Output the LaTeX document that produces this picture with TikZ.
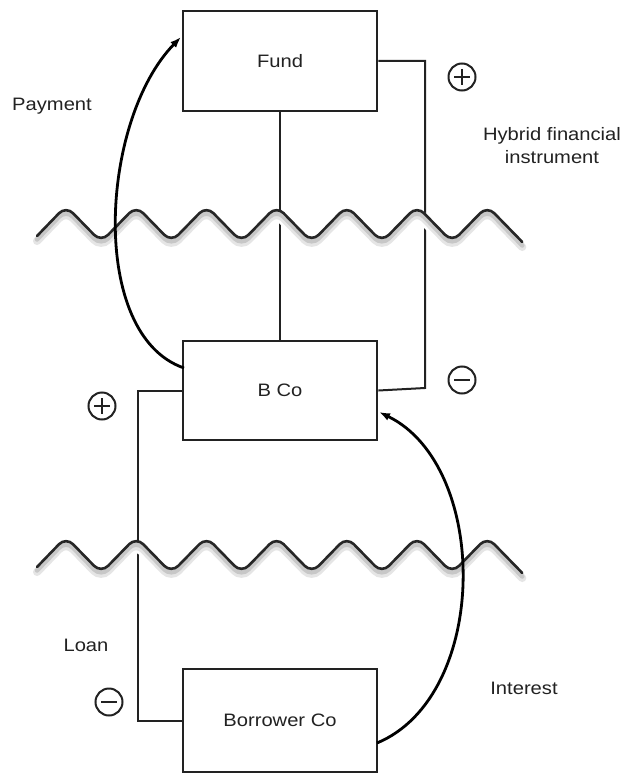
\documentclass[tikz,border=0pt]{standalone}
\usepackage{fontspec}
\usepackage{graphicx}
\setmainfont{Liberation Sans}
\usetikzlibrary{arrows.meta,calc}
\newcommand{\sx}[1]{\scalebox{1.12}[1]{#1}}
\newcommand{\wavepath}[1]{(37,{#1+12}) \foreach \k in {0,...,6} { -- ({66+70.2*\k},{#1-18}) -- ({101.1+70.2*\k},{#1+18}) }}
\definecolor{ink}{HTML}{222222}
\begin{document}
\begin{tikzpicture}[x=1pt,y=-1pt,
  box/.style={draw=ink,line width=2.8pt,minimum width=194pt,inner sep=0pt,font=\fontsize{18}{22}\selectfont,text=ink},
  lbl/.style={font=\fontsize{18}{22}\selectfont,text=ink,inner sep=0pt,align=center},
  conn/.style={draw=ink,line width=2pt},
  flow/.style={draw=black,line width=2.8pt,-{Latex[length=11pt,width=8pt]}},
  sign/.style={draw=ink,line width=2pt},
  wave/.style={draw=black!85,line width=2.6pt,line cap=round,rounded corners=10pt}]
\useasboundingbox (0,0) rectangle (626,773);
\fill[white] (0,0) rectangle (626,773);

% boxes
\node[box,minimum height=100pt] (fund) at (280,61) {\sx{Fund}};
\node[box,minimum height=99pt] (bco) at (280,390.5) {\sx{B Co}};
\node[box,minimum height=103pt] (borrower) at (280,720.5) {\sx{Borrower Co}};

% connectors
\coordinate (rc) at (425,388);
\coordinate (lc) at (138,391);
\draw[conn] (fund.east) -| (rc) -- (bco.east);
\draw[conn] (fund.south) -- (bco.north);
\draw[conn] (bco.west) -| (lc |- borrower.west) -- (borrower.west);

% waves with shadow / gap
\foreach \m in {224,555}{
  \draw[white,line width=12pt,rounded corners=10pt] [shift={(0,6)}] \wavepath{\m};
  \draw[black!10,line width=8pt,line cap=round,rounded corners=10pt] [shift={(0,5)}] \wavepath{\m};
  \draw[black!22,line width=4.5pt,line cap=round,rounded corners=10pt] [shift={(0,3.5)}] \wavepath{\m};
  \draw[wave] \wavepath{\m};
}

% flows
\coordinate (payS) at (184,368);
\coordinate (payE) at (181,37);
\draw[flow] (payS) .. controls (88,335) and (100,120) .. (payE);
\coordinate (intS) at (377,743);
\coordinate (intE) at (379,412);
\draw[flow] (intS) .. controls (490,696) and (490,466) .. (intE);

% signs
\node[sign,circle,minimum size=27pt,inner sep=0pt] (p1) at (462,77) {};
\draw[sign] ($(p1)+(-8,0)$) -- ($(p1)+(8,0)$) ($(p1)+(0,-8)$) -- ($(p1)+(0,8)$);
\node[sign,circle,minimum size=27pt,inner sep=0pt] (m1) at (462,380) {};
\draw[sign] ($(m1)+(-8,0)$) -- ($(m1)+(8,0)$);
\node[sign,circle,minimum size=27pt,inner sep=0pt] (p2) at (102,406) {};
\draw[sign] ($(p2)+(-8,0)$) -- ($(p2)+(8,0)$) ($(p2)+(0,-8)$) -- ($(p2)+(0,8)$);
\node[sign,circle,minimum size=27pt,inner sep=0pt] (m2) at (109,702) {};
\draw[sign] ($(m2)+(-8,0)$) -- ($(m2)+(8,0)$);

% labels
\node[lbl] (payment) at (52,106) {\sx{Payment}};
\node[lbl] (hybrid) at (552,146) {\sx{Hybrid financial}\\[1pt]\sx{instrument}};
\node[lbl] (loan) at (86,645) {\sx{Loan}};
\node[lbl] (interest) at (524,688) {\sx{Interest}};
\end{tikzpicture}
\end{document}
